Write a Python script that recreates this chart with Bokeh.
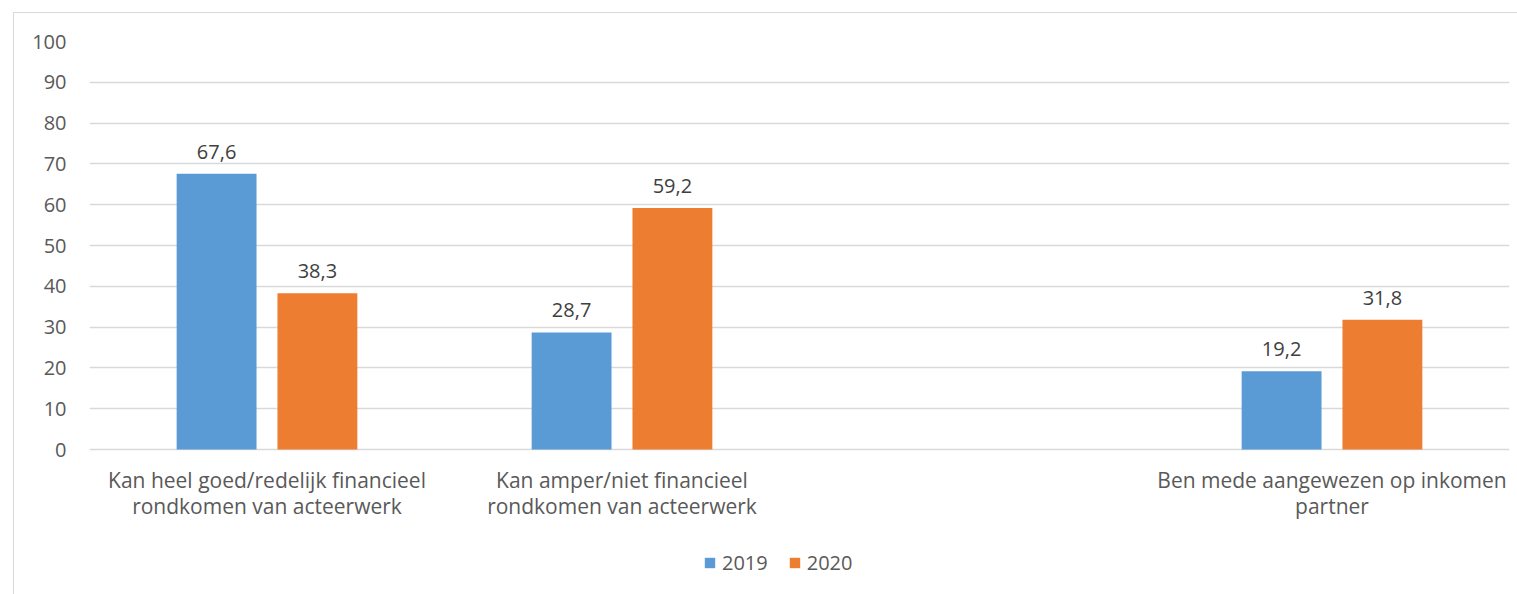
from bokeh.plotting import figure
from bokeh.models import FactorRange, Range1d, FixedTicker, Legend, LegendItem, ColumnDataSource
from bokeh.transform import dodge
from bokeh.core.properties import value
from bokeh.embed import file_html
from bokeh.resources import INLINE

# ---- data ----
categories = [
    "Kan heel goed/redelijk financieel\nrondkomen van acteerwerk",
    "Kan amper/niet financieel\nrondkomen van acteerwerk",
    " ",
    "Ben mede aangewezen op inkomen\npartner",
]
data_categories = [categories[0], categories[1], categories[3]]
series = ["2019", "2020"]
values_2019 = [67.6, 28.7, 19.2]
values_2020 = [38.3, 59.2, 31.8]
y_ticks = [0, 10, 20, 30, 40, 50, 60, 70, 80, 90, 100]

FONT = "Open Sans"
FS = "20px"
FS_CAT = "21px"
colors = ["#5B9BD5", "#ED7D31"]

def fmt(v):
    return f"{v:.1f}".replace(".", ",")

src = ColumnDataSource(dict(
    cat=data_categories,
    v2019=values_2019,
    v2020=values_2020,
    l2019=[fmt(v) for v in values_2019],
    l2020=[fmt(v) for v in values_2020],
))
cat_src = ColumnDataSource(dict(cat=categories, y=[0] * len(categories)))

# y range extends below 0 so the category labels and legend fit inside the frame
p = figure(
    x_range=FactorRange(factors=categories, range_padding=0),
    y_range=Range1d(-34.3, 100),
    width=1504, height=582,
    output_backend="svg", toolbar_location=None,
    min_border_left=75, min_border_right=9, min_border_top=28, min_border_bottom=6,
)
p.margin = (12, 0, 0, 13)
p.styles = {"border-left": "1px solid #d9d9d9", "border-top": "1px solid #d9d9d9"}
p.outline_line_color = None
p.background_fill_color = "white"

off = 0.142
w = 0.225
r1 = p.vbar(x=dodge("cat", -off, range=p.x_range), top="v2019", width=w, source=src,
            fill_color=colors[0], line_color=None)
r2 = p.vbar(x=dodge("cat", off, range=p.x_range), top="v2020", width=w, source=src,
            fill_color=colors[1], line_color=None)

for key, o in (("2019", -off), ("2020", off)):
    p.text(x=dodge("cat", o, range=p.x_range), y="v" + key, text="l" + key, source=src,
           text_align="center", text_baseline="alphabetic", y_offset=-22,
           text_font=value(FONT), text_font_size=FS, text_color="#404040")

# category labels under the zero line
p.text(x="cat", y="y", text="cat", source=cat_src,
       text_align="center", text_baseline="top", y_offset=16, text_line_height=0.95,
       text_font=value(FONT), text_font_size=FS_CAT, text_color="#595959")

# axes
p.xaxis.visible = False
p.yaxis.ticker = FixedTicker(ticks=y_ticks)
p.yaxis.axis_line_color = None
p.yaxis.major_tick_line_color = None
p.yaxis.minor_tick_line_color = None
p.yaxis.major_label_standoff = 17
p.yaxis.major_label_text_font = FONT
p.yaxis.major_label_text_font_size = FS
p.yaxis.major_label_text_color = "#595959"

p.xgrid.grid_line_color = None
p.ygrid.grid_line_color = "#d9d9d9"
p.ygrid.grid_line_width = 1.5

legend = Legend(
    items=[LegendItem(label=series[0], renderers=[r1]), LegendItem(label=series[1], renderers=[r2])],
    orientation="horizontal", location=(614, 13),
    glyph_width=13, glyph_height=13, spacing=20, padding=0, margin=0,
    border_line_color=None, background_fill_alpha=0,
    label_text_font=FONT, label_text_font_size=FS, label_text_color="#595959",
    label_standoff=6,
)
p.add_layout(legend, "center")

open("out.html", "w").write(file_html(p, INLINE))
